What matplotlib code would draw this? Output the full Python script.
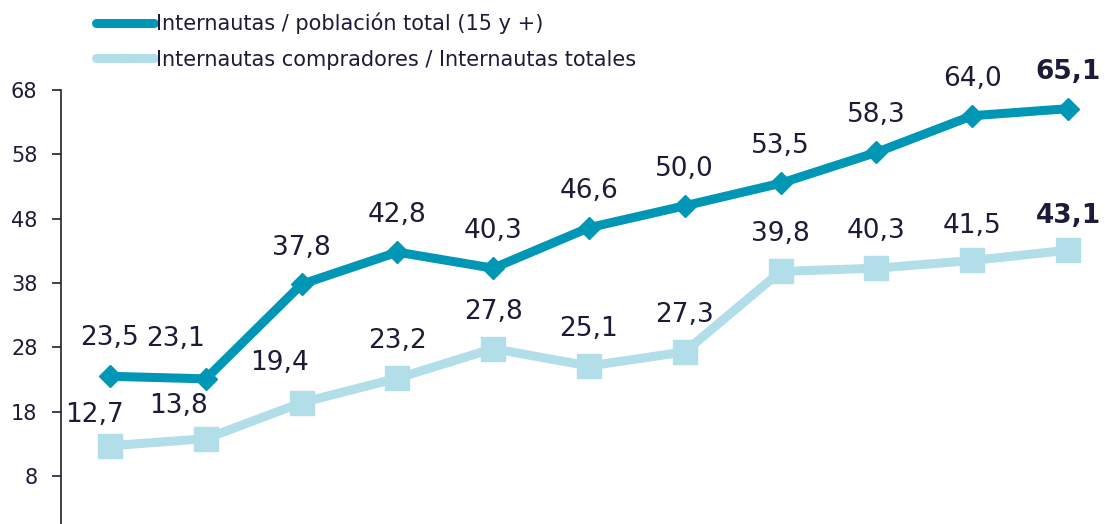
import numpy as np
import matplotlib.pyplot as plt

total = [23.5, 23.1, 37.8, 42.8, 40.3, 46.6, 50.0, 53.5, 58.3, 64.0, 65.1]
compradores = [12.7, 13.8, 19.4, 23.2, 27.8, 25.1, 27.3, 39.8, 40.3, 41.5, 43.1]
yticks = [8, 18, 28, 38, 48, 58, 68]
labels = ['Internautas / población total (15 y +)',
          'Internautas compradores / Internautas totales']

# label offsets in pixels (dx, dy from point to text baseline)
off_total = [(0, 31), (-30, 33), (0, 29), (0, 30), (0, 30), (0, 30),
             (0, 30), (0, 30), (0, 30), (0, 30), (0, 30)]
off_comp = [(-15, 24), (-27, 26), (-22, 33), (0, 30), (0, 30), (0, 30),
            (0, 30), (0, 30), (0, 30), (0, 27), (0, 27)]

dark = '#0096B5'
light = '#B1DEE9'
txt = '#1c1c38'

fig = plt.figure(figsize=(11.05, 5.24), dpi=100)
ax = fig.add_axes([61 / 1105, 0, 1 - 61 / 1105, 434 / 524])
x = np.arange(len(total))

l1, = ax.plot(x, total, color=dark, lw=6.5, marker='D', ms=11.5, zorder=3,
              solid_capstyle='round')
l2, = ax.plot(x, compradores, color=light, lw=6.5, marker='s', ms=17.5, zorder=2,
              solid_capstyle='round')


def fmt(v):
    return f'{v:.1f}'.replace('.', ',')


def put_labels(vals, offs):
    for i, v in enumerate(vals):
        bold = i == len(vals) - 1
        dx, dy = offs[i]
        ax.annotate(fmt(v), (i, v), xytext=(dx * 0.72, dy * 0.72),
                    textcoords='offset points', ha='center', va='baseline',
                    fontsize=19, color=txt,
                    fontweight='bold' if bold else 'normal')


put_labels(total, off_total)
put_labels(compradores, off_comp)

ax.set_xlim(-0.511, 10.386)
ax.set_ylim(0.54, 68)
ax.set_yticks(yticks)
ax.tick_params(axis='y', labelsize=15, colors=txt, length=6.5, width=1.2, pad=10.5)
ax.set_xticks([])
for s in ['top', 'right', 'bottom']:
    ax.spines[s].set_visible(False)
ax.spines['left'].set_color('#222222')
ax.spines['left'].set_linewidth(1.2)

leg = fig.legend([l1, l2], labels, loc='upper left',
                 bbox_to_anchor=(96 / 1105, 1 - 13 / 524), frameon=False,
                 fontsize=15, handlelength=2.8, handletextpad=0.1,
                 labelspacing=0.72, borderpad=0, borderaxespad=0,
                 markerscale=0.35)
for t in leg.get_texts():
    t.set_color(txt)

fig.savefig('out.png', dpi=100)
